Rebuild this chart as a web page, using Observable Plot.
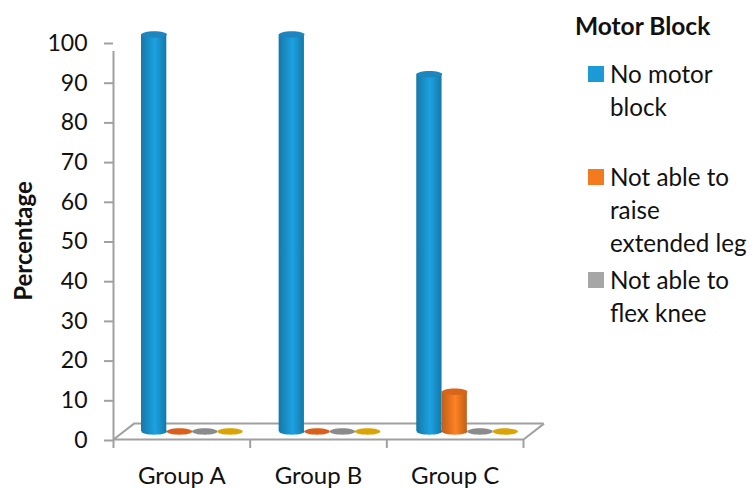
<!DOCTYPE html>
<html>
<head>
<meta charset="utf-8">
<script src="https://cdn.jsdelivr.net/npm/d3@7"></script>
<script src="https://cdn.jsdelivr.net/npm/@observablehq/plot@0.6"></script>
<style>
  html, body { margin: 0; padding: 0; background: #fff; }
  #chart { position: relative; width: 753px; height: 488px; font-family: Lato, "Noto Sans", sans-serif; color: #111; overflow: hidden; }
  #chart svg { display: block; position: absolute; left: 0; top: 0; }
  .legend-title { position: absolute; left: 575px; top: 11px; font-size: 24.5px; font-weight: 700; white-space: nowrap; }
  .legend-item { position: absolute; left: 610px; font-size: 24.2px; line-height: 33px; white-space: nowrap; }
  .legend-item i { position: absolute; left: -22px; top: 9px; width: 16px; height: 16px; }
</style>
</head>
<body>
<div id="chart"></div>
<script>
const groups = ["Group A", "Group B", "Group C"];
const seriesNames = ["No motor block", "Not able to raise extended leg", "Not able to flex knee", "Other"];
const noMotorBlock = [100, 100, 90];
const raiseExtendedLeg = [0, 0, 10];
const flexKnee = [0, 0, 0];
const otherBlock = [0, 0, 0];
const yTicks = [0, 10, 20, 30, 40, 50, 60, 70, 80, 90, 100];
const seriesColors = ["#1b9ad6", "#f47a20", "#a6a6a6", "#e0a50c"];
const capColors = ["#1d86bf", "#d9641a", "#8b8b8b", "#dba406"];
const flatColors = ["#1d86bf", "#d9601c", "#8b8b8b", "#dba406"];
const legendLines = [["No motor", "block"], ["Not able to", "raise", "extended leg"], ["Not able to", "flex knee"]];
const legendTops = [57, 160, 263];

const values = [noMotorBlock, raiseExtendedLeg, flexKnee, otherBlock];
const groupStep = 1.007, barStart = 0.205, barWidth = 0.185;
const rows = values.flatMap((vals, s) => vals.map((value, g) => ({
  group: groups[g], series: seriesNames[s], s, value,
  x1: g * groupStep + barStart + s * barWidth,
  x2: g * groupStep + barStart + (s + 1) * barWidth,
  xc: g * groupStep + barStart + (s + 0.5) * barWidth
})));
const solid = rows.filter(d => d.value > 0);
const flat = rows.filter(d => d.value === 0);

// Flattened disc used for cylinder ends and zero-height bars
const disc = {
  draw(ctx, size) {
    const rx = Math.sqrt(size / Math.PI), ry = rx * 0.25, k = 0.5523;
    ctx.moveTo(-rx, 0);
    ctx.bezierCurveTo(-rx, -k * ry, -k * rx, -ry, 0, -ry);
    ctx.bezierCurveTo(k * rx, -ry, rx, -k * ry, rx, 0);
    ctx.bezierCurveTo(rx, k * ry, k * rx, ry, 0, ry);
    ctx.bezierCurveTo(-k * rx, ry, -rx, k * ry, -rx, 0);
    ctx.closePath();
  }
};

const axisGrey = "#a0a0a0";
const lift = -8;           // cylinders stand on the raised floor
const floorDepthX = 0.15;  // floor depth in x units
const floorDepthY = 4;     // floor depth in percentage units
const radius = 12.7;

const plot = Plot.plot({
  width: 753, height: 488,
  marginLeft: 113, marginRight: 230, marginTop: 42, marginBottom: 49,
  x: {type: "linear", domain: [0, 3], axis: null},
  y: {domain: [0, 100], axis: null},
  style: {fontFamily: 'Lato, "Noto Sans", sans-serif', background: "transparent"},
  marks: [
    // floor outline
    Plot.ruleY([0], {x1: 0, x2: 3, stroke: axisGrey, strokeWidth: 2}),
    Plot.ruleY([floorDepthY], {x1: floorDepthX, x2: 3 + floorDepthX, stroke: axisGrey, strokeWidth: 2}),
    Plot.link([0, 3], {x1: d => d, y1: 0, x2: d => d + floorDepthX, y2: floorDepthY, stroke: axisGrey, strokeWidth: 2}),
    // axes
    Plot.ruleX([0], {y1: 0, y2: 100, insetBottom: -9, stroke: axisGrey, strokeWidth: 2}),
    Plot.axisY({ticks: yTicks, tickSize: 9, tickPadding: 17, dy: 1, stroke: axisGrey, strokeWidth: 2, fill: "#111", fontSize: 23, label: null}),
    Plot.axisX({ticks: [0, 1, 2, 3], tickSize: 9, tickFormat: () => "", stroke: axisGrey, strokeWidth: 2, label: null}),
    Plot.axisX({ticks: [0.5, 1.5, 2.5], tickSize: 0, tickPadding: 27, tickFormat: d => groups[Math.floor(d)], fill: "#111", fontSize: 24, label: null}),
    Plot.text(["Percentage"], {frameAnchor: "left", textAnchor: "middle", y: [50], dx: -89, rotate: -90, fontWeight: 700, fontSize: 24, fill: "#111"}),
    // zero-height bars
    Plot.dot(flat, {x: "xc", y: 0, dy: lift, r: radius, symbol: disc, fill: d => flatColors[d.s], stroke: "none"}),
    // cylinders: base, body, cap
    Plot.dot(solid, {x: "xc", y: 0, dy: lift, r: radius, symbol: disc, fill: d => `url(#cyl${d.s})`, stroke: "none"}),
    Plot.rectY(solid, {x1: "x1", x2: "x2", y1: 0, y2: "value", dy: lift, fill: d => `url(#cyl${d.s})`}),
    Plot.dot(solid, {x: "xc", y: "value", dy: lift, r: radius, symbol: disc, fill: d => capColors[d.s], stroke: "none"})
  ]
});

// Horizontal shading that gives each bar its rounded look
const defs = d3.select(plot).insert("defs", ":first-child");
seriesColors.forEach((c, i) => {
  const g = defs.append("linearGradient").attr("id", `cyl${i}`).attr("x1", 0).attr("x2", 1).attr("y1", 0).attr("y2", 0);
  const base = d3.color(c);
  [[0, base.darker(0.7)], [0.55, base.brighter(0.15)], [1, base.darker(0.7)]].forEach(([o, col]) =>
    g.append("stop").attr("offset", o).attr("stop-color", col.formatHex()));
});

const root = document.getElementById("chart");
root.appendChild(plot);

const title = document.createElement("div");
title.className = "legend-title";
title.textContent = "Motor Block";
root.appendChild(title);

legendLines.forEach((lines, i) => {
  const item = document.createElement("div");
  item.className = "legend-item";
  item.style.top = legendTops[i] + "px";
  const swatch = document.createElement("i");
  swatch.style.background = seriesColors[i];
  item.appendChild(swatch);
  lines.forEach(line => {
    const row = document.createElement("div");
    row.textContent = line;
    item.appendChild(row);
  });
  root.appendChild(item);
});
</script>
</body>
</html>
